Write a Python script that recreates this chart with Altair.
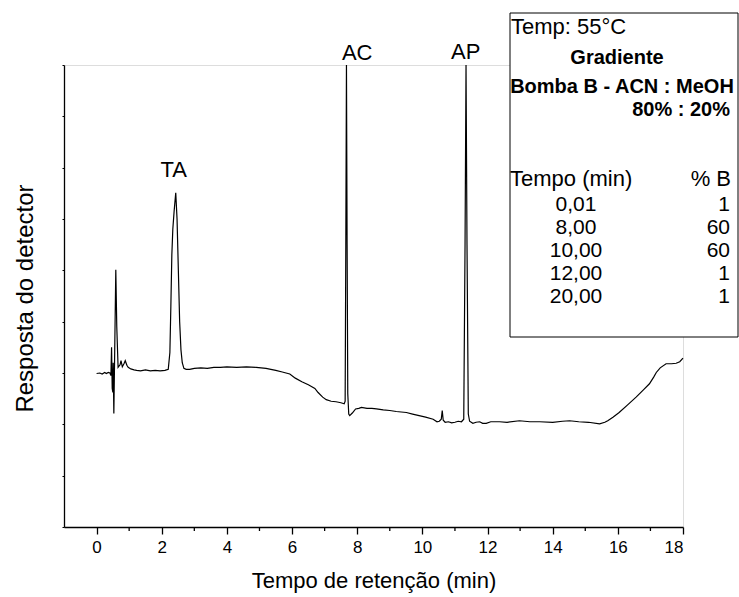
import altair as alt
import pandas as pd

# Chromatogram trace (retention time in min, detector response in arbitrary units)
time_min = [0.00, 0.10, 0.17, 0.25, 0.30, 0.36, 0.41, 0.44, 0.46, 0.48, 0.50, 0.51, 0.53, 0.56, 0.59, 0.62,
            0.66, 0.72, 0.75, 0.79, 0.84, 0.88, 0.93, 0.97, 1.05, 1.15, 1.23, 1.35, 1.50, 1.65, 1.80, 1.95,
            2.10, 2.20, 2.25, 2.28, 2.31, 2.34, 2.38, 2.43, 2.47, 2.51, 2.55, 2.59, 2.63, 2.68, 2.75, 2.86,
            3.0, 3.2, 3.4, 3.6, 3.8, 4.0, 4.3, 4.6, 4.9, 5.2, 5.5, 5.7, 5.93, 6.1, 6.3, 6.5, 6.7, 6.8,
            6.94, 7.05, 7.2, 7.35, 7.5, 7.6, 7.63, 7.65, 7.67, 7.69, 7.71, 7.74, 7.77, 7.85, 7.95, 8.05,
            8.13, 8.3, 8.45, 8.59, 8.8, 9.0, 9.2, 9.35, 9.51, 9.7, 9.9, 10.1, 10.33, 10.45, 10.52, 10.58,
            10.61, 10.64, 10.7, 10.8, 10.9, 11.0, 11.1, 11.2, 11.27, 11.31, 11.34, 11.37, 11.41, 11.45,
            11.55, 11.65, 11.76, 11.85, 11.96, 12.1, 12.37, 12.6, 12.98, 13.3, 13.6, 14.0, 14.3, 14.52,
            14.8, 15.1, 15.44, 15.6, 15.69, 15.85, 16.04, 16.3, 16.56, 16.8, 16.97, 17.1, 17.18, 17.3,
            17.48, 17.65, 17.79, 17.9, 18.0]
response = [2.99, 3.00, 2.98, 3.01, 2.99, 3.01, 3.00, 2.95, 3.50, 2.70, 2.62, 3.20, 2.21, 3.60, 5.01, 3.90,
            3.11, 3.16, 3.24, 3.12, 3.18, 3.24, 3.15, 3.11, 3.08, 3.06, 3.05, 3.04, 3.06, 3.04, 3.05, 3.04,
            3.05, 3.07, 3.40, 4.30, 5.30, 5.80, 6.15, 6.51, 6.00, 5.00, 4.00, 3.45, 3.20, 3.09, 3.07, 3.07,
            3.09, 3.10, 3.09, 3.11, 3.11, 3.12, 3.11, 3.12, 3.11, 3.09, 3.05, 3.02, 2.98, 2.90, 2.83, 2.77,
            2.70, 2.62, 2.53, 2.48, 2.45, 2.44, 2.42, 2.40, 2.45, 5.50, 9.00, 5.50, 2.60, 2.20, 2.17, 2.22,
            2.30, 2.31, 2.33, 2.31, 2.31, 2.30, 2.28, 2.27, 2.25, 2.24, 2.23, 2.20, 2.17, 2.14, 2.10, 2.05,
            2.06, 2.10, 2.27, 2.08, 2.04, 2.05, 2.03, 2.04, 2.06, 2.05, 2.10, 5.50, 9.00, 5.50, 2.20, 2.06,
            2.02, 2.04, 2.05, 2.02, 2.02, 2.05, 2.05, 2.04, 2.07, 2.05, 2.05, 2.04, 2.06, 2.07, 2.05, 2.04,
            2.01, 2.04, 2.07, 2.14, 2.23, 2.38, 2.53, 2.68, 2.79, 2.92, 3.01, 3.10, 3.18, 3.18, 3.19, 3.22,
            3.29]

peak_names = ["TA", "AC", "AP"]
peak_label_time = [2.37, 8.0, 11.33]
peak_label_resp = [6.95, 9.24, 9.26]

x_major_ticks = [0, 2, 4, 6, 8, 10, 12, 14, 16, 18]
x_minor_ticks = [1, 3, 5, 7, 9, 11, 13, 15, 17]
y_ticks = [0, 1, 2, 3, 4, 5, 6, 7, 8, 9]

box_temp = "Temp: 55°C"
box_gradient = "Gradiente"
box_pump = "Bomba B - ACN : MeOH"
box_ratio = "80% : 20%"
table_header = ["Tempo (min)", "% B"]
table_times = ["0,01", "8,00", "10,00", "12,00", "20,00"]
table_pct_b = ["1", "60", "60", "1", "1"]

FONT = "Liberation Sans"
W, H = 619, 462

trace = pd.DataFrame({"t": time_min, "r": response, "i": range(len(time_min))})
labels = pd.DataFrame({"name": peak_names, "t": peak_label_time, "r": peak_label_resp})
minor = pd.DataFrame({"t": x_minor_ticks})
one = pd.DataFrame({"a": [0]})

xscale = alt.Scale(domain=[-1, 18], nice=False, zero=False)
yscale = alt.Scale(domain=[0, 9], nice=False, zero=False)

line = alt.Chart(trace).mark_line(color="black", strokeWidth=1.2).encode(
    x=alt.X("t:Q", scale=xscale, title="Tempo de retenção (min)",
            axis=alt.Axis(values=x_major_ticks, tickSize=7, labelFontSize=17, labelPadding=5,
                          titleFontSize=22, titleFontWeight="normal", titleY=53, titleBaseline="middle",
                          domainColor="black", tickColor="black", labelColor="black", titleColor="black",
                          domainWidth=1.3, tickWidth=1.3, grid=False, labelFont=FONT, titleFont=FONT)),
    y=alt.Y("r:Q", scale=yscale, title="Resposta do detector",
            axis=alt.Axis(values=y_ticks, labels=False, tickSize=2, titleFontSize=24,
                          titleFontWeight="normal", titleX=-39, titleY=H / 2 + 2, titleBaseline="middle",
                          titleAlign="center", titleAngle=-90,
                          domainColor="black", tickColor="black", titleColor="black",
                          domainWidth=1.3, tickWidth=1.0, grid=False, titleFont=FONT)),
    order="i:Q",
)

minor_ticks = alt.Chart(minor).mark_rule(color="black", strokeWidth=1.3).encode(
    x=alt.X("t:Q", scale=xscale),
    y=alt.value(H),
    y2=alt.value(H + 4),
)

peak_text = alt.Chart(labels).mark_text(font=FONT, fontSize=22, color="black", baseline="middle").encode(
    x=alt.X("t:Q", scale=xscale),
    y=alt.Y("r:Q", scale=yscale),
    text="name:N",
)

box = alt.Chart(one).mark_rect(fill="white", stroke="black", strokeWidth=1).encode(
    x=alt.value(446), x2=alt.value(674), y=alt.value(-52), y2=alt.value(272)
)


def txt(s, x, y, align="left", bold=False, size=21):
    return alt.Chart(one).mark_text(font=FONT, fontSize=size, color="black", align=align,
                                    baseline="middle", fontWeight="bold" if bold else "normal").encode(
        x=alt.value(x), y=alt.value(y), text=alt.value(s))


box_layers = [
    txt(box_temp, 447, -38, size=22),
    txt(box_gradient, 553, -7, align="center", bold=True, size=20),
    txt(box_pump, 558, 22, align="center", bold=True, size=20),
    txt(box_ratio, 666, 45, align="right", bold=True, size=20),
    txt(table_header[0], 446, 114, size=22),
    txt(table_header[1], 667, 114, align="right", size=22),
]
row_y = [140, 163, 186, 209, 232]
for tm, pb, yy in zip(table_times, table_pct_b, row_y):
    box_layers.append(txt(tm, 512, yy, align="center"))
    box_layers.append(txt(pb, 666, yy, align="right"))

chart = alt.layer(line, minor_ticks, peak_text, box, *box_layers).properties(
    width=W, height=H,
    autosize=alt.AutoSizeParams(type="none"),
    padding={"left": 64, "top": 65, "right": 739 - 64 - W, "bottom": 597 - 65 - H},
).configure_view(stroke=None).configure(font=FONT)

chart.save("out.html", embed_options={"renderer": "svg", "actions": False})
